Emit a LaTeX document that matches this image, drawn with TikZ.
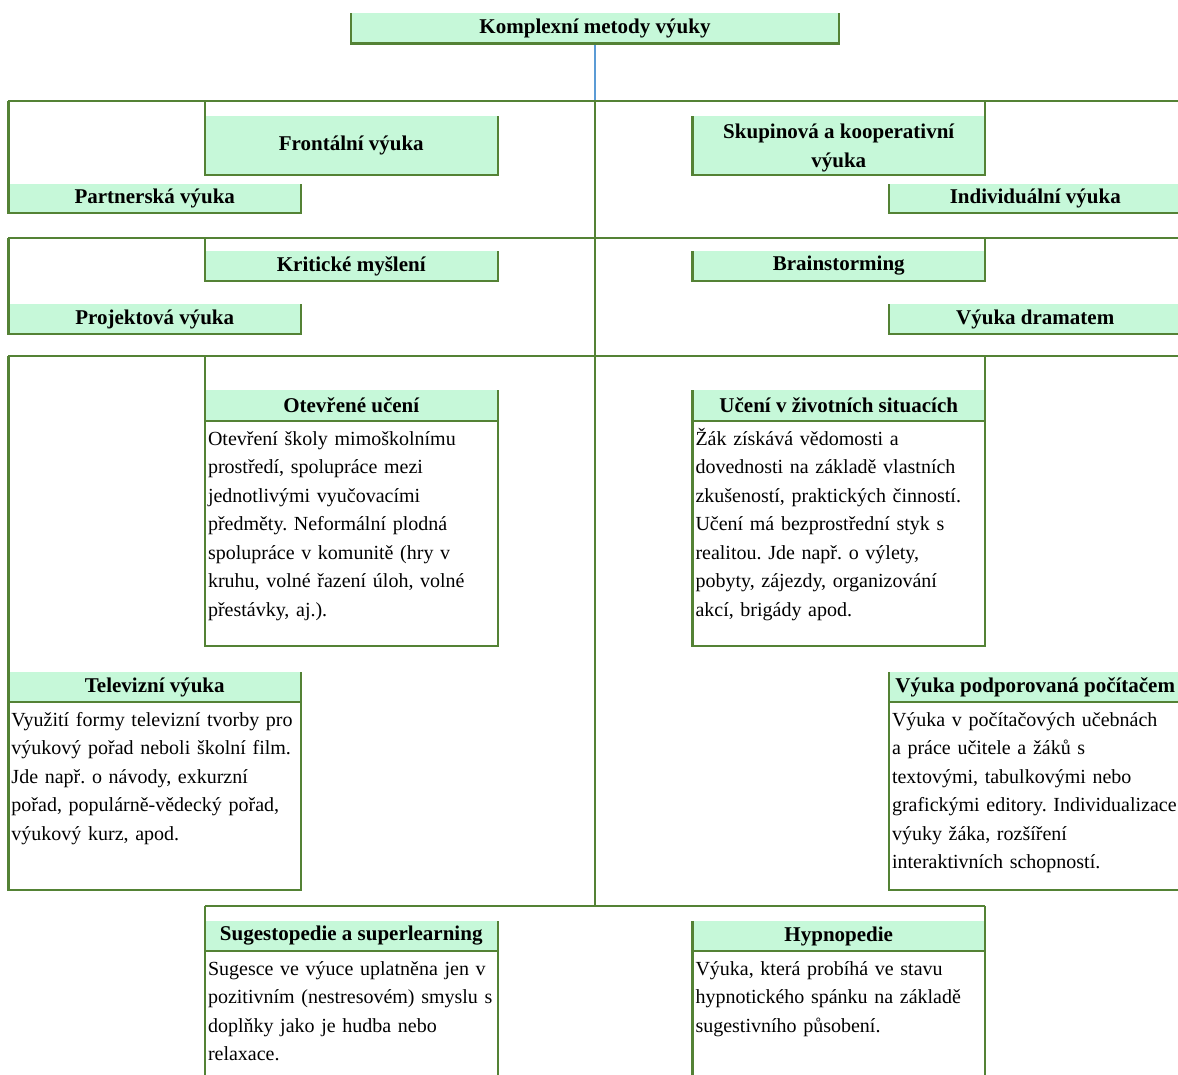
\documentclass[tikz,border=0pt]{standalone}
\usepackage{fontspec}
\setmainfont{Liberation Serif}
\frenchspacing
\definecolor{leaf}{RGB}{84,130,53}
\definecolor{mint}{RGB}{198,248,217}
\definecolor{sky}{RGB}{91,155,213}
\tikzset{
  ln/.style={draw=leaf,line width=2.4pt},
  hd/.style={fill=mint,inner sep=0pt,minimum width=292.5pt,minimum height=30pt,align=center,font=\fontsize{21}{29}\selectfont\bfseries},
  txt/.style={anchor=north west,inner xsep=3pt,inner ysep=4pt,text width=300pt,align=left,font=\fontsize{20}{28.5}\selectfont}
}
\begin{document}
\begin{tikzpicture}[x=1pt,y=-1pt]
\clip (0,0) rectangle (1178,1075);
\node[hd,minimum width=488pt] (root) at (595,28.5) {Komplexní metody výuky};
\coordinate (bar1) at (595,101);
\coordinate (bar2) at (595,238);
\coordinate (bar3) at (595,356);
\coordinate (bar4) at (595,906);
\node[hd,minimum height=59pt] (frontal) at (351.25,145.5) {Frontální výuka};
\node[hd,minimum height=59pt] (skup) at (838.75,145.5) {\rule{0pt}{19pt}Skupinová a kooperativní\\výuka};
\node[hd,minimum height=29pt] (partner) at (154.75,198.5) {Partnerská výuka};
\node[hd,minimum height=29pt] (indiv) at (1035.25,198.5) {Individuální výuka};
\node[hd] (krit) at (351.25,266) {Kritické myšlení};
\node[hd] (brain) at (838.75,266) {Brainstorming};
\node[hd] (proj) at (154.75,319) {Projektová výuka};
\node[hd] (drama) at (1035.25,319) {Výuka dramatem};
\node[hd,minimum height=31pt] (open) at (351.25,405.5) {Otevřené učení};
\node[hd,minimum height=31pt] (life) at (838.75,405.5) {Učení v životních situacích};
\node[hd] (tv) at (154.75,687) {Televizní výuka};
\node[hd] (pc) at (1035.25,687) {Výuka podporovaná počítačem};
\node[hd] (suges) at (351.25,936) {Sugestopedie a superlearning};
\node[hd] (hypno) at (838.75,936) {Hypnopedie};
\coordinate (openbot) at (351.25,646);
\coordinate (lifebot) at (838.75,646);
\coordinate (tvbot) at (154.75,890);
\coordinate (pcbot) at (1035.25,890);
\coordinate (sugbot) at (351.25,1100);
\coordinate (hypbot) at (838.75,1100);
\node[txt] (opentxt) at (open.south west) {\strut Otevření školy mimoškolnímu\\prostředí, spolupráce mezi\\jednotlivými vyučovacími\\předměty. Neformální plodná\\spolupráce v komunitě (hry v\\kruhu, volné řazení úloh, volné\\přestávky, aj.).};
\node[txt] (lifetxt) at (life.south west) {\strut Žák získává vědomosti a\\dovednosti na základě vlastních\\zkušeností, praktických činností.\\Učení má bezprostřední styk s\\realitou. Jde např. o výlety,\\pobyty, zájezdy, organizování\\akcí, brigády apod.};
\node[txt] (tvtxt) at (tv.south west) {\strut Využití formy televizní tvorby pro\\výukový pořad neboli školní film.\\Jde např. o návody, exkurzní\\pořad, populárně-vědecký pořad,\\výukový kurz, apod.};
\node[txt] (pctxt) at (pc.south west) {\strut Výuka v počítačových učebnách\\a práce učitele a žáků s\\textovými, tabulkovými nebo\\grafickými editory. Individualizace\\výuky žáka, rozšíření\\interaktivních schopností.};
\node[txt] (sugtxt) at (suges.south west) {\strut Sugesce ve výuce uplatněna jen v\\pozitivním (nestresovém) smyslu s\\doplňky jako je hudba nebo\\relaxace.};
\node[txt] (hyptxt) at (hypno.south west) {\strut Výuka, která probíhá ve stavu\\hypnotického spánku na základě\\sugestivního působení.};
\draw[draw=sky,line width=1.5pt] (root.south) -- (bar1);
\draw[ln] (bar1) -- (bar4);
\draw[ln] (root.north west) -- (root.south west) -- (root.south east) -- (root.north east);
\draw[ln] (bar1 -| partner.west) -- (bar1 -| indiv.east);
\draw[ln] (bar2 -| proj.west) -- (bar2 -| drama.east);
\draw[ln] (bar3 -| tv.west) -- (bar3 -| pc.east);
\draw[ln] (bar4 -| suges.west) -- (bar4 -| hypno.east);
\draw[ln] (bar1 -| frontal.west) -- (frontal.south west) -- (frontal.south east) -- (frontal.north east);
\draw[ln] (bar1 -| skup.east) -- (skup.south east) -- (skup.south west) -- (skup.north west);
\draw[ln] (bar1 -| partner.west) -- (partner.south west) -- (partner.south east) -- (partner.north east);
\draw[ln] (bar1 -| indiv.east) -- (indiv.south east) -- (indiv.south west) -- (indiv.north west);
\draw[ln] (bar2 -| krit.west) -- (krit.south west) -- (krit.south east) -- (krit.north east);
\draw[ln] (bar2 -| brain.east) -- (brain.south east) -- (brain.south west) -- (brain.north west);
\draw[ln] (bar2 -| proj.west) -- (proj.south west) -- (proj.south east) -- (proj.north east);
\draw[ln] (bar2 -| drama.east) -- (drama.south east) -- (drama.south west) -- (drama.north west);
\draw[ln] (bar3 -| open.west) -- (open.west |- openbot) -- (open.east |- openbot) -- (open.north east);
\draw[ln] (open.south west) -- (open.south east);
\draw[ln] (bar3 -| life.east) -- (life.east |- lifebot) -- (life.west |- lifebot) -- (life.north west);
\draw[ln] (life.south west) -- (life.south east);
\draw[ln] (bar3 -| tv.west) -- (tv.west |- tvbot) -- (tv.east |- tvbot) -- (tv.north east);
\draw[ln] (tv.south west) -- (tv.south east);
\draw[ln] (bar3 -| pc.east) -- (pc.east |- pcbot) -- (pc.west |- pcbot) -- (pc.north west);
\draw[ln] (pc.south west) -- (pc.south east);
\draw[ln] (bar4 -| suges.west) -- (suges.west |- sugbot) -- (suges.east |- sugbot) -- (suges.north east);
\draw[ln] (suges.south west) -- (suges.south east);
\draw[ln] (bar4 -| hypno.east) -- (hypno.east |- hypbot) -- (hypno.west |- hypbot) -- (hypno.north west);
\draw[ln] (hypno.south west) -- (hypno.south east);
\end{tikzpicture}
\end{document}
